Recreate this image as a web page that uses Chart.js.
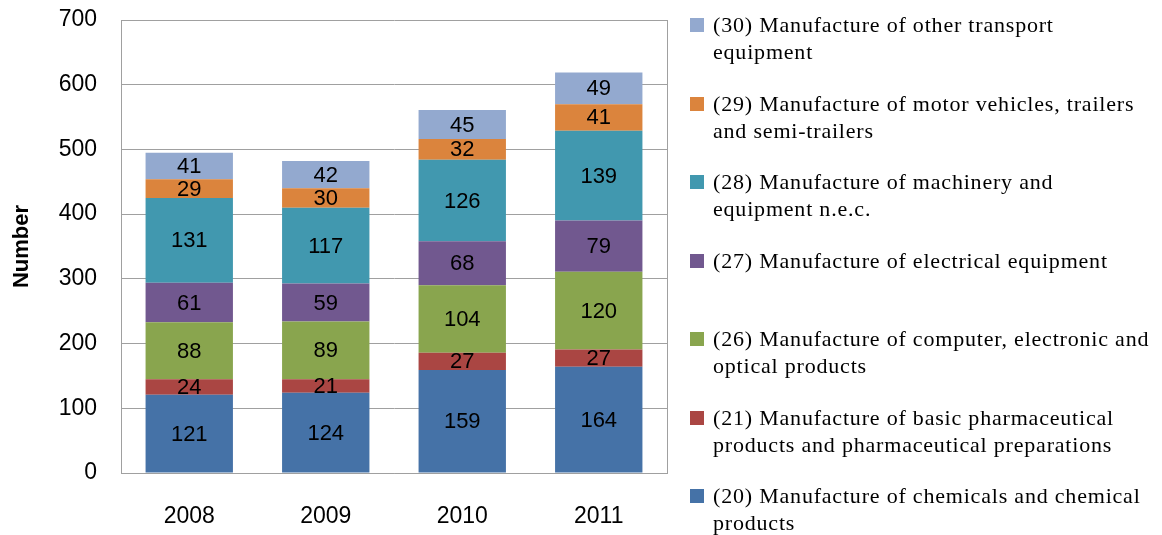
<!DOCTYPE html>
<html>
<head>
<meta charset="utf-8">
<script src="https://cdn.jsdelivr.net/npm/chart.js@4/dist/chart.umd.min.js"></script>
<style>
  html, body { margin: 0; padding: 0; background: #fff; }
  #wrap { position: relative; width: 1162px; height: 535px; }
  #legend { position: absolute; left: 690px; top: 11px; font-family: "Liberation Serif", serif; font-size: 22px; letter-spacing: 0.8px; color: #000; }
  .item { height: 78.5px; display: flex; align-items: flex-start; }
  .box { width: 14px; height: 14px; margin-top: 7px; margin-right: 9px; flex: none; }
  .txt { line-height: 27px; white-space: nowrap; }
</style>
</head>
<body>
<div id="wrap">
  <canvas id="chart" width="1162" height="535"></canvas>
  <div id="legend"></div>
</div>
<script>
const years = ["2008", "2009", "2010", "2011"];

// series labels, bottom of the stack first
const seriesNames = [
  ["(20) Manufacture of chemicals and chemical", "products"],
  ["(21) Manufacture of basic pharmaceutical", "products and pharmaceutical preparations"],
  ["(26) Manufacture of computer, electronic and", "optical products"],
  ["(27) Manufacture of electrical equipment"],
  ["(28) Manufacture of machinery and", "equipment n.e.c."],
  ["(29) Manufacture of motor vehicles, trailers", "and semi-trailers"],
  ["(30) Manufacture of other transport", "equipment"]
];

const chemicals = [121, 124, 159, 164];
const pharma = [24, 21, 27, 27];
const computer = [88, 89, 104, 120];
const electrical = [61, 59, 68, 79];
const machinery = [131, 117, 126, 139];
const motor = [29, 30, 32, 41];
const transport = [41, 42, 45, 49];

const yTicks = [0, 100, 200, 300, 400, 500, 600, 700];

const colors = ["#4572A7", "#AA4643", "#89A54E", "#71588F", "#4198AF", "#DB843D", "#93A9CF"];
const seriesValues = [chemicals, pharma, computer, electrical, machinery, motor, transport];

const sans = "'Liberation Sans', sans-serif";

// value labels in the middle of each segment
const segmentLabels = {
  id: "segmentLabels",
  afterDatasetsDraw(chart) {
    const ctx = chart.ctx;
    ctx.save();
    ctx.font = "22px " + sans;
    ctx.fillStyle = "#000";
    ctx.textAlign = "center";
    ctx.textBaseline = "middle";
    chart.data.datasets.forEach((ds, i) => {
      chart.getDatasetMeta(i).data.forEach((bar, j) => {
        ctx.fillText(ds.data[j], bar.x, (bar.y + bar.base) / 2 + 1);
      });
    });
    ctx.restore();
  }
};

const chart = new Chart(document.getElementById("chart"), {
  type: "bar",
  data: {
    labels: years,
    datasets: seriesValues.map((vals, i) => ({
      label: seriesNames[i].join(" "),
      data: vals,
      backgroundColor: colors[i],
      borderWidth: 0,
      barPercentage: 0.64,
      categoryPercentage: 1
    }))
  },
  options: {
    responsive: false,
    animation: false,
    layout: { padding: { left: 0, top: 20, right: 495, bottom: 0 } },
    plugins: {
      legend: { display: false },
      tooltip: { enabled: false }
    },
    scales: {
      x: {
        stacked: true,
        grid: { display: false, drawTicks: false },
        border: { color: "#a0a0a0", width: 1 },
        ticks: { color: "#000", padding: 30, font: { family: sans, size: 23 } },
        afterFit(scale) { scale.height = 62; scale.paddingLeft = 0; scale.paddingRight = 0; }
      },
      y: {
        stacked: true,
        min: 0,
        max: 700,
        afterBuildTicks(scale) { scale.ticks = yTicks.map(v => ({ value: v })); },
        grid: { color: "#a0a0a0", drawTicks: false },
        border: { color: "#a0a0a0", width: 1 },
        ticks: { color: "#000", padding: 24, font: { family: sans, size: 23 } },
        title: { display: true, text: "Number", color: "#000", padding: { top: 9, bottom: 0 }, font: { family: sans, size: 22, weight: "bold" } },
        afterFit(scale) { scale.width = 121; scale.paddingTop = 0; scale.paddingBottom = 0; }
      }
    }
  },
  plugins: [segmentLabels, {
    id: "rightBorder",
    afterDraw(chart) {
      const a = chart.chartArea, ctx = chart.ctx;
      ctx.save();
      ctx.strokeStyle = "#a0a0a0";
      ctx.lineWidth = 1;
      ctx.beginPath();
      ctx.moveTo(Math.round(a.right) + 0.5, a.top);
      ctx.lineTo(Math.round(a.right) + 0.5, a.bottom);
      ctx.stroke();
      ctx.restore();
    }
  }]
});

// legend, top of the stack first
const legend = document.getElementById("legend");
chart.data.datasets.map((ds, i) => i).reverse().forEach(i => {
  const item = document.createElement("div");
  item.className = "item";
  const box = document.createElement("div");
  box.className = "box";
  box.style.background = colors[i];
  const txt = document.createElement("div");
  txt.className = "txt";
  txt.innerHTML = seriesNames[i].join("<br>");
  item.appendChild(box);
  item.appendChild(txt);
  legend.appendChild(item);
});
</script>
</body>
</html>
